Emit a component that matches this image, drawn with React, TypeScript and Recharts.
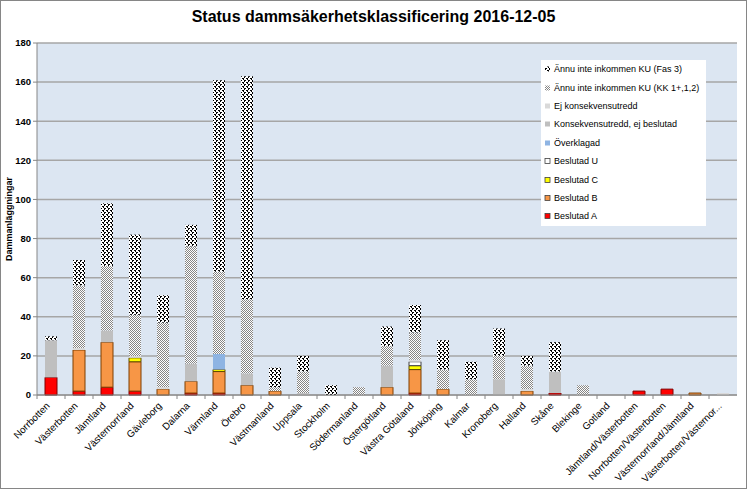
import React from "react";
import { BarChart, Bar, XAxis, YAxis, CartesianGrid, Legend } from "recharts";

const categories = [
  "Norrbotten", "Västerbotten", "Jämtland", "Västernorrland", "Gävleborg",
  "Dalarna", "Värmland", "Örebro", "Västmanland", "Uppsala", "Stockholm",
  "Södermanland", "Östergötland", "Västra Götaland", "Jönköping", "Kalmar",
  "Kronoberg", "Halland", "Skåne", "Blekinge", "Gotland",
  "Jämtland/Västerbotten", "Norrbotten/Västerbotten", "Västernorrland/Jämtland",
  "Västerbotten/Västernor...",
];

const beslutadA = [9, 2, 4, 2, 0, 1, 1, 0, 0, 0, 0, 0, 0, 1, 0, 0, 0, 0, 1, 0, 0, 2, 3, 0, 0];
const beslutadB = [0, 21, 23, 15, 3, 6, 11, 5, 2, 0, 0, 0, 4, 12, 3, 0, 0, 2, 0, 0, 0, 0, 0, 1, 0];
const beslutadC = [0, 0, 0, 2, 0, 0, 1, 0, 0, 0, 0, 0, 0, 2, 0, 0, 0, 0, 0, 0, 0, 0, 0, 0, 0];
const beslutadU = [0, 0, 0, 0, 0, 0, 0, 0, 0, 0, 0, 0, 0, 2, 0, 0, 0, 0, 0, 0, 0, 0, 0, 0, 0];
const overklagad = [0, 0, 0, 0, 0, 0, 8, 0, 0, 0, 0, 0, 0, 0, 0, 0, 0, 0, 0, 0, 0, 0, 0, 0, 0];
const konsekvensutredd = [19, 0, 6, 0, 0, 9, 0, 6, 0, 1, 0, 0, 11, 0, 0, 0, 8, 0, 11, 0, 0, 0, 0, 0, 0];
const ejKonsekvensutredd = [0, 1, 0, 1, 1, 0, 0, 0, 0, 0, 0, 0, 0, 1, 0, 0, 0, 1, 0, 0, 0, 0, 0, 0, 1];
const ejInkommenKK = [0, 32, 33, 21, 33, 60, 42, 38, 2, 11, 0, 4, 10, 14, 10, 8, 12, 12, 0, 5, 0, 0, 0, 0, 0];
const ejInkommenFas3 = [2, 13, 32, 41, 14, 11, 98, 114, 10, 8, 5, 0, 10, 14, 15, 9, 14, 5, 15, 0, 0, 0, 0, 0, 0];

const yTicks = [0, 20, 40, 60, 80, 100, 120, 140, 160, 180];

// stacked bottom -> top
const series = [
  { key: "a", name: "Beslutad A", values: beslutadA, fill: "#ff0000", stroke: "#7f0000" },
  { key: "b", name: "Beslutad B", values: beslutadB, fill: "#f79646", stroke: "#7f3f00" },
  { key: "c", name: "Beslutad C", values: beslutadC, fill: "#ffff00", stroke: "#5f4a00" },
  { key: "u", name: "Beslutad U", values: beslutadU, fill: "#ffffff", stroke: "#404040" },
  { key: "o", name: "Överklagad", values: overklagad, fill: "#8eb4e3", stroke: "none" },
  { key: "k", name: "Konsekvensutredd, ej beslutad", values: konsekvensutredd, fill: "#bfbfbf", stroke: "none" },
  { key: "e", name: "Ej konsekvensutredd", values: ejKonsekvensutredd, fill: "#d9d9d9", stroke: "none" },
  { key: "kk", name: "Ännu inte inkommen KU (KK 1+,1,2)", values: ejInkommenKK, fill: "url(#patKK)", stroke: "none" },
  { key: "f3", name: "Ännu inte inkommen KU (Fas 3)", values: ejInkommenFas3, fill: "url(#patFas3)", stroke: "none" },
];

const data = categories.map((lan, i) => {
  const row: Record<string, string | number> = { lan };
  series.forEach((s) => {
    row[s.key] = s.values[i];
  });
  return row;
});

const FONT = "'Liberation Sans', Arial, sans-serif";

function XTick(props: any) {
  const { x, y, payload } = props;
  return (
    <g>
      <line x1={x - 14} x2={x - 14} y1={y - 8} y2={y - 4} stroke="#868686" />
      <text
        x={x - 3}
        y={y + 1}
        transform={`rotate(-45 ${x - 3} ${y + 1})`}
        textAnchor="end"
        dominantBaseline="central"
        fontSize={9.8}
        fontFamily={FONT}
        fill="#000"
      >
        {payload.value}
      </text>
    </g>
  );
}

function LegendBox() {
  const items = [...series].reverse();
  return (
    <div
      style={{
        background: "#fff",
        width: 165,
        height: 166,
        fontFamily: FONT,
        fontSize: 9,
        color: "#000",
      }}
    >
      {items.map((s) => (
        <div key={s.key} style={{ height: 18.4, display: "flex", alignItems: "center" }}>
          <svg width={12} height={10} style={{ flex: "none" }}>
            <rect
              x={4}
              y={2.5}
              width={5}
              height={5}
              fill={s.fill}
              stroke={s.stroke === "none" ? "none" : "#404040"}
              strokeWidth={0.8}
            />
          </svg>
          <span style={{ marginLeft: 1, whiteSpace: "nowrap" }}>{s.name}</span>
        </div>
      ))}
    </div>
  );
}

export default function App() {
  return (
    <div style={{ position: "absolute", left: 0, top: 0, width: 747, height: 489, background: "#fff" }}>
      <div
        style={{
          position: "absolute",
          left: 0,
          top: 8,
          width: 747,
          textAlign: "center",
          fontFamily: FONT,
          fontWeight: "bold",
          fontSize: 16,
          color: "#000",
        }}
      >
        Status dammsäkerhetsklassificering 2016-12-05
      </div>
      <BarChart
        width={747}
        height={489}
        data={data}
        barSize={12}
        margin={{ top: 43, right: 10, left: 0, bottom: 0 }}
      >
        <defs>
          <pattern id="patFas3" width={4} height={4} patternUnits="userSpaceOnUse">
            <rect width={4} height={4} fill="#ffffff" />
            <rect x={0} y={0} width={2} height={1} fill="#000000" />
            <rect x={0} y={1} width={1} height={1} fill="#000000" />
            <rect x={2} y={2} width={2} height={1} fill="#000000" />
            <rect x={3} y={3} width={1} height={1} fill="#000000" />
          </pattern>
          <pattern id="patKK" width={2} height={2} patternUnits="userSpaceOnUse">
            <rect width={2} height={2} fill="#ffffff" />
            <rect x={0} y={0} width={1} height={1} fill="#858585" />
            <rect x={1} y={1} width={1} height={1} fill="#858585" />
          </pattern>
        </defs>
        <CartesianGrid vertical={false} fill="#dce6f2" stroke="#a6a6a6" strokeWidth={1.5} />
        <XAxis
          dataKey="lan"
          interval={0}
          height={94}
          tickLine={false}
          axisLine={{ stroke: "#868686" }}
          tick={<XTick />}
        />
        <YAxis
          width={37}
          domain={[0, 180]}
          ticks={yTicks}
          interval={0}
          tick={{ fontSize: 9.5, fontWeight: "bold", fill: "#000", fontFamily: FONT }}
          tickLine={{ stroke: "#868686" }}
          tickSize={4}
          axisLine={{ stroke: "#868686" }}
          label={({ viewBox }: any) => (
            <text
              x={viewBox.x + 9}
              y={viewBox.y + viewBox.height / 2}
              transform={`rotate(-90 ${viewBox.x + 9} ${viewBox.y + viewBox.height / 2})`}
              textAnchor="middle"
              dominantBaseline="central"
              fontSize={9}
              fontWeight="bold"
              fontFamily={FONT}
              fill="#000"
            >
              Dammanläggningar
            </text>
          )}
        />
        <Legend
          layout="vertical"
          align="center"
          verticalAlign="middle"
          wrapperStyle={{ left: 541, top: 60, width: 165, height: 166 }}
          content={() => <LegendBox />}
        />
        {series.map((s) => (
          <Bar
            key={s.key}
            dataKey={s.key}
            name={s.name}
            stackId="stack"
            fill={s.fill}
            stroke={s.stroke}
            strokeWidth={s.stroke === "none" ? 0 : 1}
            isAnimationActive={false}
          />
        ))}
      </BarChart>
      <div
        style={{
          position: "absolute",
          inset: 0,
          border: "1px solid #868686",
          pointerEvents: "none",
        }}
      />
    </div>
  );
}
